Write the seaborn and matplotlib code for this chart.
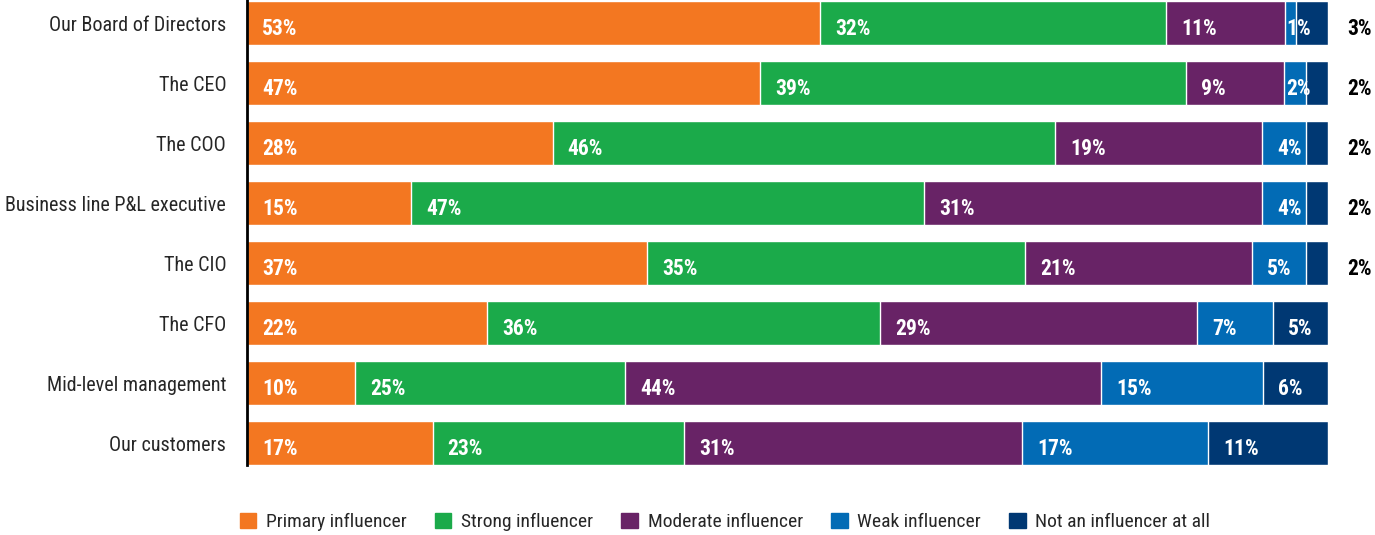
import matplotlib
matplotlib.use("Agg")
import matplotlib.pyplot as plt
import matplotlib.patches as mpatches
import seaborn as sns
import numpy as np
import pandas as pd

# data
groups = ["Our Board of Directors", "The CEO", "The COO", "Business line P&L executive",
          "The CIO", "The CFO", "Mid-level management", "Our customers"]
series = ["Primary influencer", "Strong influencer", "Moderate influencer",
          "Weak influencer", "Not an influencer at all"]
primary = [53, 47, 28, 15, 37, 22, 10, 17]
strong = [32, 39, 46, 47, 35, 36, 25, 23]
moderate = [11, 9, 19, 31, 21, 29, 44, 31]
weak = [1, 2, 4, 4, 5, 7, 15, 17]
not_at_all = [3, 2, 2, 2, 2, 5, 6, 11]

colors = ["#F37721", "#1BAA4A", "#682366", "#026BB5", "#003873"]

sns.set_style("white")
plt.rcParams["font.family"] = ["Roboto Condensed", "DejaVu Sans"]
plt.rcParams["font.stretch"] = "condensed"

df = pd.DataFrame({"group": groups, series[0]: primary, series[1]: strong,
                   series[2]: moderate, series[3]: weak, series[4]: not_at_all})
vals = df[series].to_numpy(dtype=float)
# 100% stacked bars
shares = vals / vals.sum(axis=1, keepdims=True) * 100

fig = plt.figure(figsize=(13.75, 5.35), dpi=100)
ax = fig.add_axes([247 / 1375, 1 - 465 / 535, (1328 - 247) / 1375, 465 / 535])

left = np.zeros(len(groups))
for i, s in enumerate(series):
    sns.barplot(x=left + shares[:, i], y=groups, orient="h", color=colors[i],
                width=0.733, saturation=1, ax=ax, zorder=5 - i)
    for j in range(len(groups)):
        v = int(vals[j, i])
        if i == 4 and v <= 3:
            ax.annotate(f"{v}%", (100, j), xytext=(19, -6), textcoords="offset pixels",
                        ha="left", va="center", color="black", fontsize=15.5,
                        fontweight="bold", annotation_clip=False)
        else:
            pad = 15 if v >= 4 else 2
            ax.annotate(f"{v}%", (left[j], j), xytext=(pad, -6), textcoords="offset pixels",
                        ha="left", va="center", color="white", fontsize=15.5,
                        fontweight="bold", zorder=10)
    left = left + shares[:, i]

ax.set_xlim(0, 100)
ax.set_ylim(7.3665, -0.3835)
ax.set_xlabel("")
ax.set_ylabel("")
ax.set_xticks([])
ax.tick_params(axis="y", length=0, pad=15, labelsize=14.5)
for sp in ["top", "right", "bottom"]:
    ax.spines[sp].set_visible(False)
ax.spines["left"].set_color("black")
ax.spines["left"].set_linewidth(2)
ax.spines["left"].set_zorder(20)

handles = [mpatches.Patch(color=c, label=s) for c, s in zip(colors, series)]
fig.legend(handles=handles, loc="center", bbox_to_anchor=(725 / 1375, 1 - 522 / 535),
           ncol=5, frameon=False, fontsize=14, handlelength=0.85, handleheight=0.85,
           handletextpad=0.5, columnspacing=1.45, borderpad=0)

fig.savefig("out.png", dpi=100)
